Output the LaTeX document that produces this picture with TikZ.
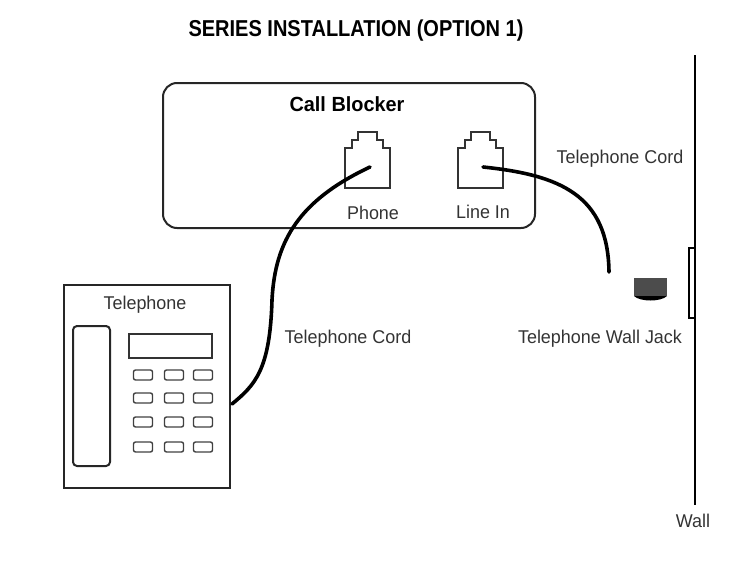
\documentclass[tikz,border=0pt]{standalone}
\usepackage{fontspec}
\setmainfont{Liberation Sans}
\begin{document}
\begin{tikzpicture}[x=1pt,y=-1pt,
  box/.style={draw=black!85,line width=2pt},
  thin/.style={draw=black!80,line width=1.5pt},
  lbl/.style={font=\fontsize{18.5}{20}\selectfont,text=black!80,inner sep=0pt,xscale=0.97},
  cord/.style={draw=black,line width=3.6pt,line cap=round},
  btn/.style={draw=black!75,line width=1.4pt,rounded corners=2pt,minimum width=19pt,minimum height=10pt,inner sep=0pt}]
\useasboundingbox (0,0) rectangle (750,581);
\node[inner sep=0pt,font=\bfseries\fontsize{23}{25}\selectfont,xscale=0.87] (title) at (356,31) {SERIES INSTALLATION (OPTION 1)};
% call blocker
\draw[box,rounded corners=14pt] (163,83) rectangle (535,228);
\node[inner sep=0pt,font=\bfseries\fontsize{20.5}{22}\selectfont,xscale=0.97] (cb) at (347,104) {Call Blocker};
\foreach \n/\x in {pj/345,lj/458}{
  \draw[thin] (\x,188) -- (\x,148) -- (\x+7,148) -- (\x+7,140) -- (\x+13,140) -- (\x+13,132) -- (\x+32,132) -- (\x+32,140) -- (\x+38,140) -- (\x+38,148) -- (\x+45,148) -- (\x+45,188) -- cycle;
  \coordinate (\n) at (\x+25,167);
}
\node[lbl] (phl) at (373,213) {Phone};
\node[lbl] (lil) at (483,212) {Line In};
% wall
\draw[line width=2pt] (695,55) -- (695,505);
\node[lbl] (wall) at (693,521) {Wall};
\draw[line width=1.5pt] (695,248) -- (689,248) -- (689,318) -- (695,318);
\fill[black!70] (634,278) rectangle (667,296);
\fill[black] (634,296) .. controls (640,302) and (661,302) .. (667,296) -- cycle;
\coordinate (wj) at (609,272);
% telephone
\draw[box] (64,285) rectangle (230,488);
\node[lbl] (tel) at (145,305) {Telephone};
\draw[box,rounded corners=4pt] (73,326) rectangle (110,466);
\draw[thin] (129,334) rectangle (212,358);
\foreach \y in {375,398,422,447}{\foreach \x in {143,174,203}{\node[btn] at (\x,\y) {};}}
\coordinate (tp) at (232,404);
% cords
\draw[cord] (lj) .. controls (560,175) and (608,195) .. (wj);
\draw[cord] (pj) .. controls (300,200) and (275,240) .. (272,300) .. controls (270,370) and (255,385) .. (tp);
\node[lbl] (tc1) at (620,159) {Telephone Cord};
\node[lbl] (tc2) at (348,339) {Telephone Cord};
\node[lbl] (twj) at (600,339) {Telephone Wall Jack};
\end{tikzpicture}
\end{document}
